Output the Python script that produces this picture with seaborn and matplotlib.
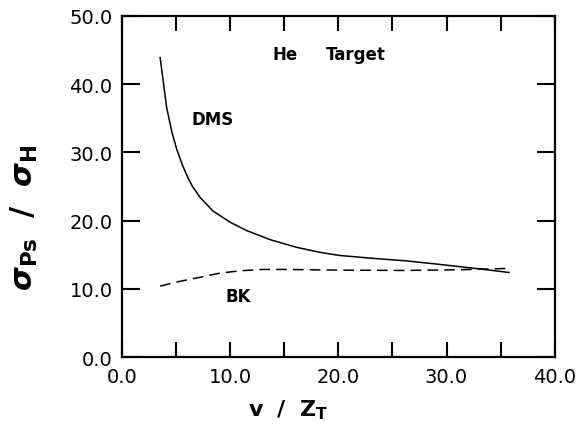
import matplotlib
matplotlib.use("Agg")
import matplotlib.pyplot as plt
from matplotlib.ticker import MultipleLocator, FormatStrFormatter
import seaborn as sns
import pandas as pd

# Ratio of positronium to hydrogen formation cross sections on a He target
dms_v = [3.5, 3.8, 4.1, 4.6, 5.05, 5.6, 6.1, 6.5, 7.2, 8.4, 10.0, 11.5,
         13.7, 16.1, 18.3, 20.1, 23.0, 26.3, 29.0, 31.8, 34.0, 35.8]
dms_ratio = [43.9, 40.3, 36.6, 32.9, 30.4, 28.0, 26.2, 25.0, 23.4, 21.4, 19.75, 18.55,
             17.2, 16.1, 15.35, 14.9, 14.5, 14.1, 13.65, 13.15, 12.75, 12.4]

bk_v = [3.5, 5.0, 7.2, 9.0, 10.9, 13.0, 15.0, 20.0, 26.0, 31.0, 35.8]
bk_ratio = [10.4, 11.0, 11.7, 12.3, 12.65, 12.85, 12.85, 12.75, 12.7, 12.8, 13.0]

x_ticks = [0.0, 10.0, 20.0, 30.0, 40.0]
y_ticks = [0.0, 10.0, 20.0, 30.0, 40.0, 50.0]

sns.set_theme(style="ticks")
plt.rcParams["font.family"] = ["DejaVu Sans"]
plt.rcParams["text.color"] = "black"

dms = pd.DataFrame({"v": dms_v, "ratio": dms_ratio})
bk = pd.DataFrame({"v": bk_v, "ratio": bk_ratio})

fig, ax = plt.subplots(figsize=(5.85, 4.31), dpi=100)
fig.subplots_adjust(left=0.209, right=0.948, top=0.961, bottom=0.169)

sns.lineplot(data=dms, x="v", y="ratio", color="black", linewidth=1.1, ax=ax)
sns.lineplot(data=bk, x="v", y="ratio", color="black", linewidth=1.1,
             linestyle=(0, (7, 4)), ax=ax)

ax.set_xlim(0, 40)
ax.set_ylim(0, 50)
ax.set_xticks(x_ticks)
ax.set_yticks(y_ticks)
ax.xaxis.set_minor_locator(MultipleLocator(5))
ax.xaxis.set_major_formatter(FormatStrFormatter("%.1f"))
ax.yaxis.set_major_formatter(FormatStrFormatter("%.1f"))

ax.tick_params(axis="both", which="both", direction="in", color="black",
               width=1.5, labelsize=14, pad=7, labelcolor="black")
ax.tick_params(axis="x", which="both", top=True, length=11)
ax.tick_params(axis="y", which="both", right=True, length=13)

for side in ax.spines.values():
    side.set_visible(True)
    side.set_linewidth(1.6)
    side.set_color("black")

ax.set_xlabel(r"$\mathbf{v\ \ /\ \ Z_T}$", fontsize=16, color="black")
ax.xaxis.set_label_coords(0.383, -0.118)
ax.set_ylabel(r"$\boldsymbol{\sigma}_{\mathbf{Ps}}\ \ \mathbf{/}\ \ \boldsymbol{\sigma}_{\mathbf{H}}$",
              fontsize=22, color="black")
ax.yaxis.set_label_coords(-0.19, 0.41)

ax.text(15.1, 44.4, "He", fontsize=12, fontweight="bold", ha="center", va="center")
ax.text(21.6, 44.4, "Target", fontsize=12, fontweight="bold", ha="center", va="center")
ax.text(8.4, 34.9, "DMS", fontsize=12, fontweight="bold", ha="center", va="center")
ax.text(10.7, 9.0, "BK", fontsize=12, fontweight="bold", ha="center", va="center")

fig.savefig("out.png", dpi=100)
